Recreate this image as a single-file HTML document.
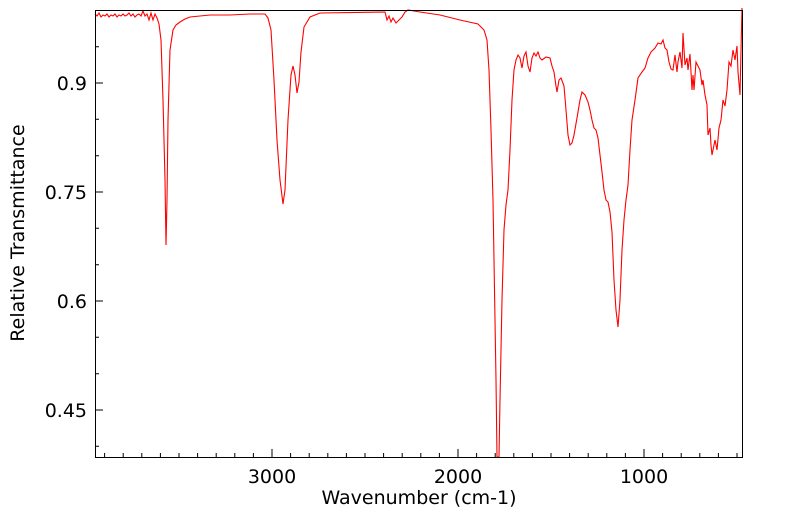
<!DOCTYPE html>
<html><head><meta charset="utf-8"><style>
html,body{margin:0;padding:0;background:#fff;}
svg{display:block;font-family:"DejaVu Sans","Liberation Sans",sans-serif;}
</style></head><body>
<svg width="799" height="516" viewBox="0 0 799 516" xmlns="http://www.w3.org/2000/svg">
<rect width="799" height="516" fill="#fff"/>
<g stroke="#000" stroke-width="1">
<path d="
M104.6,457v-4 M123.2,457v-4 M141.8,457v-4 M160.4,457v-4 M179,457v-4 M197.6,457v-4 M216.2,457v-4 M234.8,457v-4 M253.4,457v-4
M272,457v-8 M290.6,457v-4 M309.2,457v-4 M327.8,457v-4 M346.4,457v-4 M365,457v-4 M383.6,457v-4 M402.2,457v-4 M420.8,457v-4 M439.4,457v-4
M458,457v-8 M476.6,457v-4 M495.2,457v-4 M513.8,457v-4 M532.4,457v-4 M551,457v-4 M569.6,457v-4 M588.2,457v-4 M606.8,457v-4 M625.4,457v-4
M644,457v-8 M662.6,457v-4 M681.2,457v-4 M699.8,457v-4 M718.4,457v-4 M737,457v-4
M95,446.3h4 M95,410h8 M95,373.7h4 M95,337.3h4 M95,301h8 M95,264.7h4 M95,228.3h4 M95,192h8 M95,155.7h4 M95,119.3h4 M95,83h8 M95,46.7h4
"/>
</g>
<polyline fill="none" stroke="#ff0000" stroke-width="1.1" points="
95,14 97,16 99,13 101,17 103,15 105,16 107,14 109,17 111,15 113,16 115,14 117,17 119,15 121,16 123,14 125,16 127,15 129,13 131,16 133,14 135,17 137,15 139,14 141,16 143,11 145,16 147,14 149,20 151,13 153,20 155,14 157,18 159,24 161,40 163,100 165,180 166,245 167,200 168,120 170,50 173,30 176,25 180,22 185,19 190,17 200,16 210,15 230,15 250,14 265,14 268,18 271,30 274,80 277,140 280,180 283,204 285,190 288,120 291,75 293,66 295,75 297,93 299,82 301,52 304,27 310,17 320,13 385,12 387,20 389,16 391,22 393,18 396,23 399,20 402,17 405,12 408,10 420,12 440,15 460,20 478,24 484,30 487,40 489,70 491,130 493,200 494,260 496,380 497,457 499,457 500,400 502,300 504,230 506,205 508,190 510,150 512,100 514,70 516,60 518,55 520,58 522,68 524,56 526,52 528,66 530,72 532,58 534,53 536,56 538,52 540,58 542,60 546,57 550,58 552,66 554,72 556,86 557,92 559,80 561,78 564,86 566,110 568,135 570,145 572,143 574,135 577,118 580,100 582,92 585,95 588,102 590,110 592,120 594,128 596,130 598,138 600,155 602,172 604,190 606,200 608,202 610,212 612,232 614,280 616,310 618,327 620,300 622,250 624,220 626,200 628,185 630,150 632,120 635,100 638,78 642,72 645,68 648,58 651,52 655,48 658,43 661,44 663,40 665,48 667,50 669,62 671,69 673,70 675,55 677,72 678,62 680,52 682,68 683,33 685,65 687,58 688,70 690,54 692,90 693,75 694,90 696,62 698,66 700,70 702,85 703,80 705,95 707,105 708,135 710,128 711,145 712,155 713,150 715,140 717,150 719,128 721,120 723,100 725,106 727,90 729,62 731,66 733,50 735,60 737,46 738,72 740,95 741,50 742,8
"/>
<rect x="95.5" y="10.5" width="647" height="447" fill="none" stroke="#000" stroke-width="1"/>
<g font-size="19" fill="#000">
<text x="272" y="483" text-anchor="middle">3000</text>
<text x="458" y="483" text-anchor="middle">2000</text>
<text x="644" y="483" text-anchor="middle">1000</text>
<text x="87" y="417" text-anchor="end">0.45</text>
<text x="87" y="308" text-anchor="end">0.6</text>
<text x="87" y="199" text-anchor="end">0.75</text>
<text x="87" y="90" text-anchor="end">0.9</text>
<text x="419" y="504" text-anchor="middle">Wavenumber (cm-1)</text>
<text transform="translate(24,233) rotate(-90)" text-anchor="middle">Relative Transmittance</text>
</g>
</svg>
</body></html>
